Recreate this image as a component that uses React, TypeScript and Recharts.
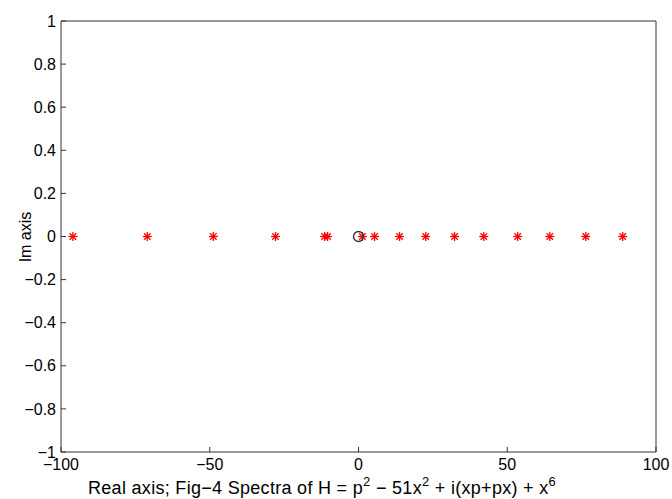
import { ScatterChart, Scatter, XAxis, YAxis } from 'recharts';

const realParts = [-96.0, -71.0, -48.8, -27.9, -11.4, -10.4, 1.3, 5.4, 13.8, 22.6, 32.3, 42.1, 53.5, 64.3, 76.4, 88.8];
const imagParts = [0, 0, 0, 0, 0, 0, 0, 0, 0, 0, 0, 0, 0, 0, 0, 0];
const originReal = [0];
const originImag = [0];

const xTicks = [-100, -50, 0, 50, 100];
const yTicks = [-1, -0.8, -0.6, -0.4, -0.2, 0, 0.2, 0.4, 0.6, 0.8, 1];

const spectrum = realParts.map((x, i) => ({ x, y: imagParts[i] }));
const origin = originReal.map((x, i) => ({ x, y: originImag[i] }));

const FONT = "'Liberation Sans', Arial, sans-serif";

const fmt = (v: number) => {
  const s = String(Math.round(v * 10) / 10);
  return s.replace('-', '\u2212');
};

const Star = (props: any) => {
  const { cx, cy } = props;
  const r = 4.5;
  const d = r * 0.72;
  return (
    <g stroke="#ff0000" strokeWidth={1.3}>
      <line x1={cx - r} y1={cy} x2={cx + r} y2={cy} />
      <line x1={cx} y1={cy - r} x2={cx} y2={cy + r} />
      <line x1={cx - d} y1={cy - d} x2={cx + d} y2={cy + d} />
      <line x1={cx - d} y1={cy + d} x2={cx + d} y2={cy - d} />
    </g>
  );
};

const Ring = (props: any) => {
  const { cx, cy } = props;
  return <circle cx={cx} cy={cy} r={5} fill="none" stroke="#333333" strokeWidth={1.3} />;
};

const XLabel = () => (
  <text x={88} y={494} fontSize={18} letterSpacing={0.3} fill="#000" fontFamily={FONT}>
    Real axis; Fig{'\u2212'}4 Spectra of H = p
    <tspan dy={-8} fontSize={13}>2</tspan>
    <tspan dy={8}> {'\u2212'} 51x</tspan>
    <tspan dy={-8} fontSize={13}>2</tspan>
    <tspan dy={8}> + i(xp+px) + x</tspan>
    <tspan dy={-8} fontSize={13}>6</tspan>
  </text>
);

const YLabel = () => (
  <text
    x={31}
    y={237}
    fontSize={16}
    fill="#000"
    textAnchor="middle"
    transform="rotate(-90 31 237)"
    fontFamily={FONT}
  >
    Im axis
  </text>
);

const tickStyle = { fill: '#000', fontSize: 16, fontFamily: FONT };

export default function App() {
  return (
    <div style={{ position: 'absolute', left: 0, top: 0, width: 672, height: 499, background: '#fff' }}>
      <ScatterChart width={672} height={499} margin={{ top: 21, right: 16, bottom: 7, left: 11 }}>
        <XAxis
          xAxisId="bottom"
          type="number"
          dataKey="x"
          domain={[-100, 100]}
          ticks={xTicks}
          tickFormatter={fmt}
          height={40}
          tickSize={-5}
          tickMargin={12}
          stroke="#333"
          tick={tickStyle}
          label={<XLabel />}
        />
        <XAxis
          xAxisId="top"
          orientation="top"
          type="number"
          dataKey="x"
          domain={[-100, 100]}
          ticks={xTicks}
          height={1}
          mirror
          tickSize={5}
          tick={false}
          stroke="#333"
        />
        <YAxis
          yAxisId="left"
          type="number"
          dataKey="y"
          domain={[-1, 1]}
          ticks={yTicks}
          tickFormatter={fmt}
          width={50}
          tickSize={-5}
          tickMargin={10}
          stroke="#333"
          tick={tickStyle}
          label={<YLabel />}
        />
        <YAxis
          yAxisId="right"
          orientation="right"
          type="number"
          dataKey="y"
          domain={[-1, 1]}
          ticks={yTicks}
          width={1}
          mirror
          tickSize={5}
          tick={false}
          stroke="#333"
        />
        <Scatter
          data={spectrum}
          xAxisId="bottom"
          yAxisId="left"
          shape={<Star />}
          isAnimationActive={false}
        />
        <Scatter
          data={origin}
          xAxisId="bottom"
          yAxisId="left"
          shape={<Ring />}
          isAnimationActive={false}
        />
      </ScatterChart>
    </div>
  );
}
